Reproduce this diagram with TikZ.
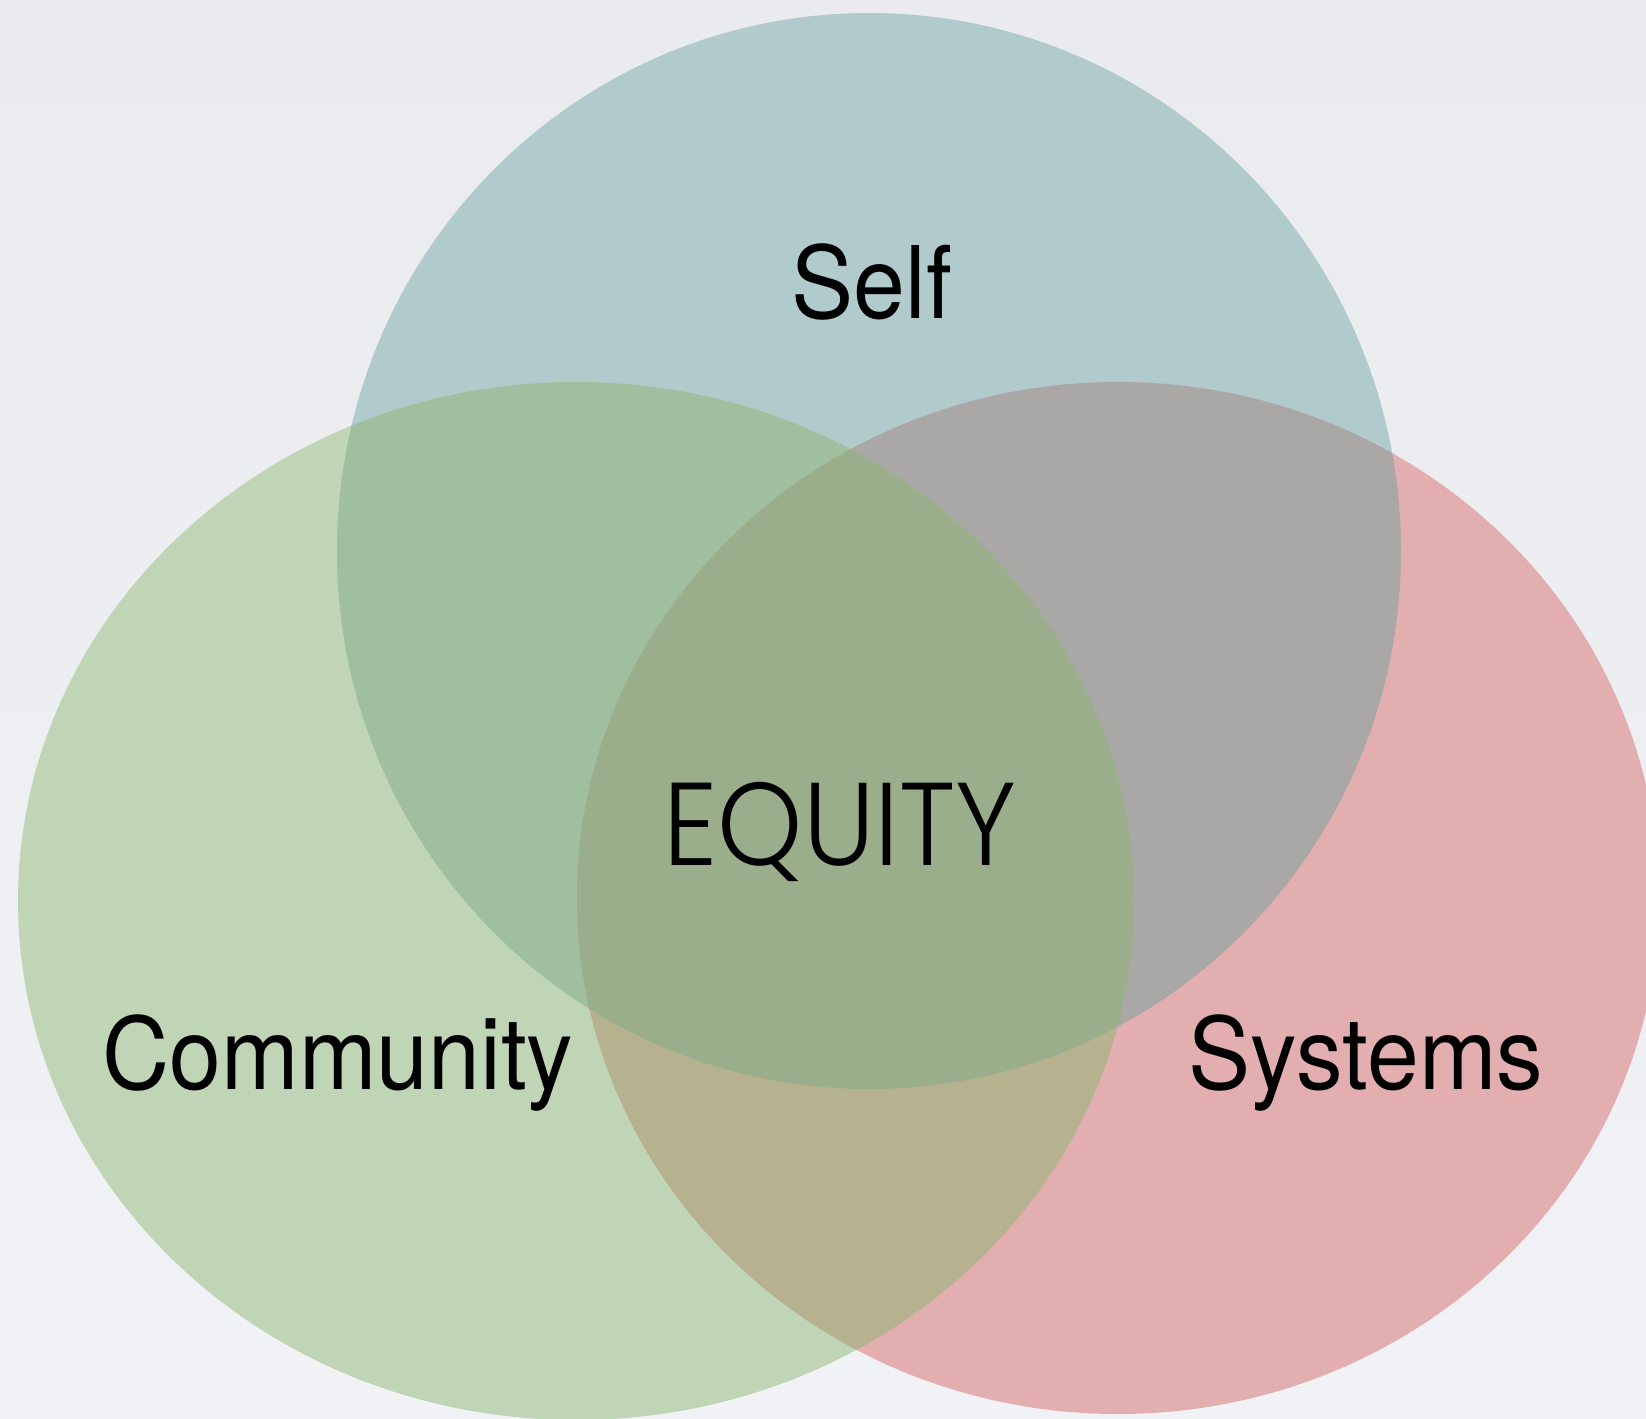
\documentclass[tikz,border=0pt]{standalone}
\usepackage{fontspec}
\usepackage{tikz}
\usepackage{xcolor}
\setmainfont{TeX Gyre Heros}
\newfontfamily\labelfont[FakeStretch=0.93]{TeX Gyre Heros}
\newfontfamily\centerfont[FakeStretch=0.92]{Poppins Light}

% region colours
\definecolor{bgtop}{HTML}{E9EBEE}
\definecolor{bgbot}{HTML}{F1F2F5}
\definecolor{selfc}{HTML}{B1CACB}
\definecolor{commc}{HTML}{BFD5B5}
\definecolor{sysc}{HTML}{E2AEB0}
\definecolor{selfcommc}{HTML}{9FBF9E}
\definecolor{selfsysc}{HTML}{A9A8A7}
\definecolor{commsysc}{HTML}{B6B18F}
\definecolor{allc}{HTML}{9BAE8C}

% the three sets
\def\selfset{(869,-551) ellipse [x radius=532, y radius=538]}
\def\commset{(576,-901) ellipse [x radius=558, y radius=519]}
\def\sysset{(1118,-898) ellipse [x radius=541, y radius=516]}

\tikzset{%
	setlabel/.style = {anchor=base, inner sep=0pt, font=\labelfont\fontsize{28.5}{30}\selectfont},
	mainlabel/.style= {anchor=base, inner sep=0pt, font=\centerfont\fontsize{33.5}{36}\selectfont},
}

\begin{document}
\begin{tikzpicture}[x=0.1mm,y=0.1mm]
		\useasboundingbox (0,0) rectangle (1646,-1418);
		\clip (0,0) rectangle (1646,-1418);
		\shade[top color=bgtop, bottom color=bgbot] (0,0) rectangle (1646,-1418);
		% single sets
		\fill[selfc] \selfset;
		\fill[commc] \commset;
		\fill[sysc] \sysset;
		% pairwise overlaps
		\begin{scope}
			\clip \selfset;
			\fill[selfcommc] \commset;
			\fill[selfsysc] \sysset;
		\end{scope}
		\begin{scope}
			\clip \commset;
			\fill[commsysc] \sysset;
			\clip \sysset;
			\fill[allc] \selfset;
		\end{scope}
		% labels
		\node[setlabel] (self) at (872,-318) {Self};
		\node[setlabel] (community) at (338,-1089) {Community};
		\node[setlabel] (systems) at (1366,-1089) {Systems};
		\node[mainlabel] (equity) at (840,-865) {EQUITY};
	\end{tikzpicture}
\end{document}
